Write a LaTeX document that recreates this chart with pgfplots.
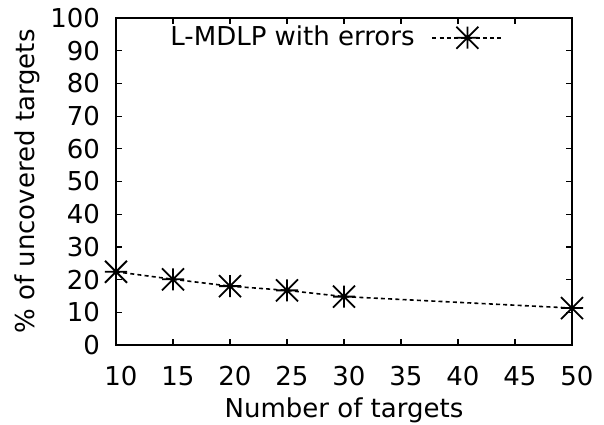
\documentclass[border=0pt]{standalone}
\usepackage{fontspec}
\setmainfont{DejaVu Sans}
\usepackage{pgfplots}
\pgfplotsset{compat=1.18}
\pgfdeclareplotmark{gpstar}{%
  \pgfpathmoveto{\pgfqpoint{-\pgfplotmarksize}{0pt}}\pgfpathlineto{\pgfqpoint{\pgfplotmarksize}{0pt}}%
  \pgfpathmoveto{\pgfqpoint{0pt}{-\pgfplotmarksize}}\pgfpathlineto{\pgfqpoint{0pt}{\pgfplotmarksize}}%
  \pgfpathmoveto{\pgfqpoint{-\pgfplotmarksize}{-\pgfplotmarksize}}\pgfpathlineto{\pgfqpoint{\pgfplotmarksize}{\pgfplotmarksize}}%
  \pgfpathmoveto{\pgfqpoint{-\pgfplotmarksize}{\pgfplotmarksize}}\pgfpathlineto{\pgfqpoint{\pgfplotmarksize}{-\pgfplotmarksize}}%
  \pgfusepathqstroke}
\begin{document}
\fontsize{13pt}{15pt}\selectfont
\begin{tikzpicture}
\begin{axis}[
  name=ax,
  scale only axis,
  width=228pt, height=163.5pt,
  xmin=10, xmax=50, ymin=0, ymax=100,
  xtick={10,15,...,50}, ytick={0,10,...,100},
  tick align=inside, tick pos=both,
  major tick length=3pt,
  axis line style={line width=0.8pt},
  every tick/.style={line width=0.6pt, black},
  /pgf/number format/assume math mode=true,
  tick label style={font=\fontsize{13pt}{15pt}\selectfont},
  label style={font=\fontsize{13pt}{15pt}\selectfont},
  xticklabel style={anchor=center, yshift=-15.5pt, xshift=2.5pt},
  yticklabel style={xshift=-3.5pt},
  every axis x label/.style={at={(axis description cs:0.5,0)}, anchor=center, yshift=-32.5pt},
  every axis y label/.style={at={(axis description cs:0,0.5)}, xshift=-44.5pt, rotate=90, anchor=center},
  xlabel={Number of targets},
  ylabel={\% of uncovered targets},
  legend plot pos=right,
  legend style={at={(rel axis cs:0,1)}, anchor=north west, xshift=25pt, yshift=-1.75pt,
    draw=none, fill=none, inner sep=0pt, font=\fontsize{13pt}{15pt}\selectfont},
  legend image code/.code={\path (0pt,0pt); \draw[#1, mark repeat=2, mark phase=2] plot coordinates {(6.5pt,0pt) (24pt,0pt) (41.5pt,0pt)};},
]
\addplot[black, line width=0.8pt, dash pattern=on 2pt off 1.6pt,
  mark=gpstar, mark size=5.5pt, mark options={solid, line width=0.9pt}]
  coordinates {(10,22.4) (15,20.1) (20,18.0) (25,16.7) (30,14.8) (50,11.3)};
\addlegendentry{L-MDLP with errors}
\end{axis}
\pgfresetboundingbox
\path (ax.south west) ++(-58pt,-39.5pt) rectangle ([xshift=16pt,yshift=9pt]ax.north east);
\end{tikzpicture}
\end{document}
